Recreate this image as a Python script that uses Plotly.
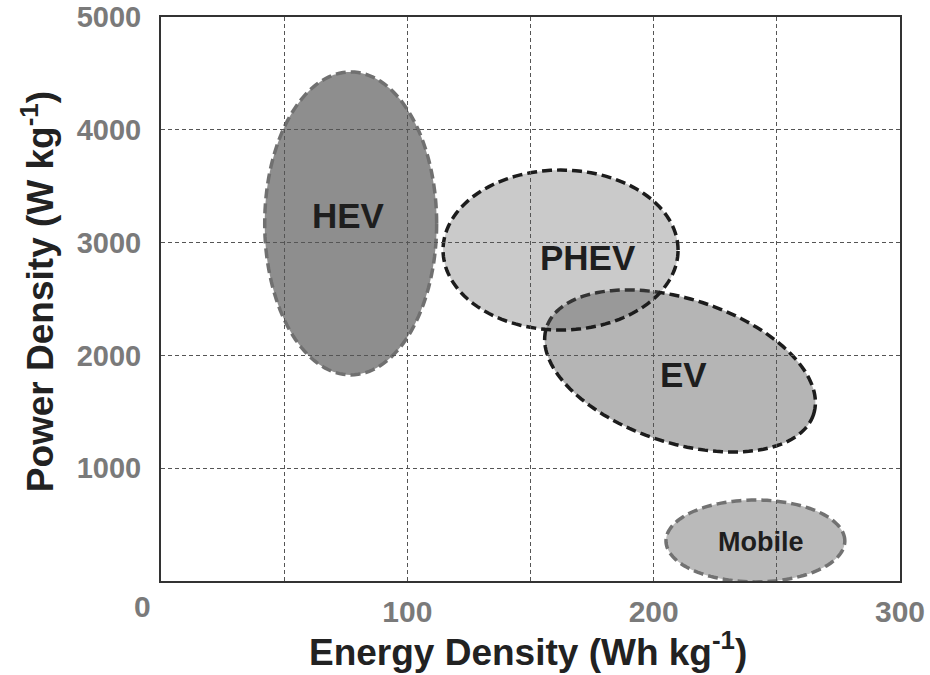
import numpy as np
import plotly.graph_objects as go

# regions (Wh/kg, W/kg)
names = ["HEV", "EV", "PHEV", "Mobile"]
cx = [77, 210.7, 162.2, 241.3]
cy = [3170, 1862, 2934, 355]
rx = [34.9, 57, 47.7, 36.3]
ry = [1343, 638, 709, 363]
tilt = [0, -18, 0, 0]

lab_x = [76, 212.3, 173.2, 243.5]
lab_y = [3236, 1835, 2868, 346]
lab_size = [35, 35, 35, 27]

fills = ["#8e8e8e", "#b5b5b5", "rgba(101,101,101,0.34)", "#bababa"]
edges = ["#707070", "#1c1c1c", "#1c1c1c", "#727272"]

x_ticks = [100, 200, 300]
x_grid = [50, 150, 250]
y_ticks = [1000, 2000, 3000, 4000, 5000]

W, H = 930, 675
ml, mr, mt, mb = 161, 30, 17, 94
sx = (W - ml - mr) / 300.0
sy = (H - mt - mb) / 5000.0

shapes = []
t = np.linspace(0, 2 * np.pi, 145)
for i in range(len(names)):
    a = np.radians(tilt[i])
    A, B = rx[i] * sx, ry[i] * sy
    dx = A * np.cos(t) * np.cos(a) - B * np.sin(t) * np.sin(a)
    dy = A * np.cos(t) * np.sin(a) + B * np.sin(t) * np.cos(a)
    px = cx[i] + dx / sx
    py = cy[i] + dy / sy
    path = "M " + " L ".join("%.3f,%.3f" % (u, v) for u, v in zip(px, py)) + " Z"
    shapes.append(dict(type="path", path=path, xref="x", yref="y", layer="below",
                       fillcolor=fills[i],
                       line=dict(color=edges[i], width=3.5, dash="10px,5px")))

FONT = "Liberation Sans, Arial"
axis_font = dict(family=FONT, size=30, color="#7a7a7a", weight="bold")
title_font = dict(family=FONT, size=37, color="#222222", weight="bold")

annotations = []
for i in range(len(names)):
    annotations.append(dict(text=names[i], x=lab_x[i], y=lab_y[i], xref="x", yref="y",
                            showarrow=False,
                            font=dict(family=FONT, size=lab_size[i], color="#1e1e1e",
                                      weight="bold")))
annotations += [
    dict(text="0", x=-0.0244, y=-0.046, xref="paper", yref="paper",
         xanchor="center", yanchor="middle", showarrow=False, font=axis_font),
    dict(text="Energy Density (Wh kg<sup>-1</sup>)", x=0.4966, y=-0.122,
         xref="paper", yref="paper", xanchor="center", yanchor="middle",
         showarrow=False, font=title_font),
    dict(text="Power Density (W kg<sup>-1</sup>)", x=-0.1664, y=0.512, textangle=-90,
         xref="paper", yref="paper", xanchor="center", yanchor="middle",
         showarrow=False, font=title_font),
]

grid = dict(showgrid=True, gridcolor="#555555", gridwidth=1, griddash="4px,3px")

fig = go.Figure(data=[go.Scatter(x=[], y=[])])

fig.update_layout(
    width=W, height=H,
    margin=dict(l=ml, r=mr, t=mt, b=mb),
    paper_bgcolor="white", plot_bgcolor="white",
    showlegend=False, hovermode=False,
    shapes=shapes,
    annotations=annotations,
    xaxis=dict(range=[0, 300], tickvals=x_ticks, automargin=False, **grid,
               minor=dict(tickvals=x_grid, ticks="", **grid),
               showline=True, linecolor="#333333", linewidth=2, mirror=True,
               zeroline=False, ticks="", tickfont=axis_font, ticklabelstandoff=3),
    yaxis=dict(range=[0, 5000], tickvals=y_ticks, automargin=False, **grid,
               showline=True, linecolor="#333333", linewidth=2, mirror=True,
               zeroline=False, ticks="", tickfont=dict(axis_font, size=29),
               ticklabelstandoff=12),
)

# drop the browser's default body margin so the figure sits at the page corner
fig.write_html("out.html", config={"displayModeBar": False},
               post_script="document.body.style.margin='0';")
